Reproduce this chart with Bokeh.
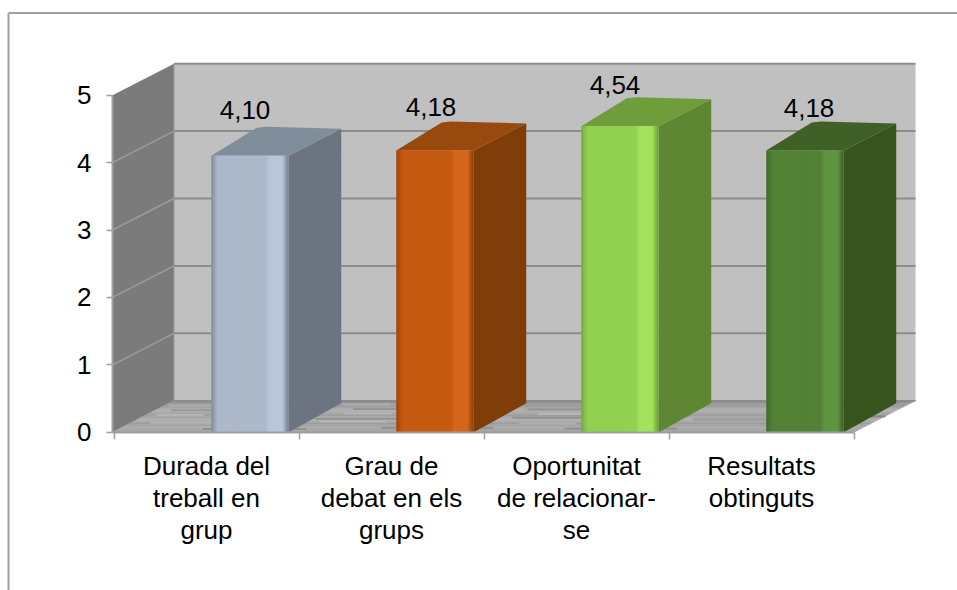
from bokeh.plotting import figure
from bokeh.models import LinearAxis, FixedTicker, Range1d
from bokeh.core.properties import value
from bokeh.embed import file_html
from bokeh.resources import INLINE

categories = ["Durada del\ntreball en\ngrup", "Grau de\ndebat en els\ngrups",
              "Oportunitat\nde relacionar-\nse", "Resultats\nobtinguts"]
values = [4.10, 4.18, 4.54, 4.18]
value_labels = ["4,10", "4,18", "4,54", "4,18"]
y_ticks = [0, 1, 2, 3, 4, 5]

front_colors = ["#adb9ca", "#c55a11", "#92d050", "#538135"]
light_colors = ["#bac6da", "#d6661a", "#a3e25e", "#5f9440"]
dark_colors = ["#7f8b9b", "#9a4509", "#74a83c", "#406a28"]
top_colors = ["#808d9b", "#984a0e", "#709d3c", "#3f6127"]
side_colors = ["#6b7480", "#7f3d0a", "#5f8633", "#37541f"]
label_dx = [-5, -4, -5, 4]
label_lift = [46, 43, 41, 42]
floor_greys = ["#a0a0a0", "#a4a4a4", "#aaaaaa", "#a4a4a4", "#9c9c9c", "#a6a6a6", "#aeaeae", "#a8a8a8",
               "#9e9e9e", "#a2a2a2", "#acacac", "#b0b0b0", "#a4a4a4", "#989898", "#9e9e9e", "#8b8b8b"]
# floor streaks: share of floor depth, start and end along the floor, grey
floor_streaks = [(0.10, 0.45, 1.00, "#858585"), (0.14, 1.40, 2.00, "#838383"), (0.12, 2.40, 3.00, "#888888"),
                 (0.30, 0.10, 0.50, "#bababa"), (0.34, 1.00, 1.35, "#bebebe"), (0.28, 2.10, 2.40, "#b8b8b8"),
                 (0.42, 0.95, 1.45, "#8a8a8a"), (0.46, 2.00, 2.50, "#868686"), (0.40, 3.00, 3.45, "#8e8e8e"),
                 (0.55, 0.05, 0.30, "#bcbcbc"), (0.60, 1.05, 1.30, "#bababa"), (0.58, 2.10, 2.40, "#bebebe"),
                 (0.70, 0.08, 0.35, "#8e8e8e"), (0.74, 1.05, 1.30, "#8a8a8a"), (0.72, 2.00, 2.30, "#888888"),
                 (0.84, 0.02, 0.25, "#b4b4b4"), (0.88, 0.95, 1.20, "#b6b6b6"), (0.50, 3.85, 4.00, "#7c7c7c")]

FONT = "Liberation Sans"
FS = "26px"
W, H = 957, 590
# pixel scale of the chart (the figure starts at the page corner)
X0, PX_CAT = 113.5, 185.0
Y0, PX_VAL = 431.7, 67.4
WALL_DX, WALL_DY = 61.5, 31.5
BAR_DX, BAR_DY = 52.5, 29.0
BAR_SHIFT, BAR_W = 43.5, 77.5

def dx(px):
    return px / PX_CAT

def dy(px):
    return px / PX_VAL

p = figure(width=W, height=H, output_backend="svg", toolbar_location=None,
           x_range=Range1d(-X0 / PX_CAT, (W - X0) / PX_CAT),
           y_range=Range1d((Y0 - H) / PX_VAL, Y0 / PX_VAL),
           min_border=0, min_border_left=0, min_border_right=0, min_border_top=0, min_border_bottom=0,
           outline_line_color=None, background_fill_color="white", border_fill_color="white",
           x_axis_location=None, y_axis_location=None)
p.grid.visible = False

x_left = dx(-1.5)
x_back = x_left + dx(WALL_DX)
n_cat = len(categories)
x_right_front = float(n_cat)
x_right_back = x_right_front + dx(WALL_DX)
vmax = y_ticks[-1]
back = dy(WALL_DY)

# outer chart frame
frame_top = (Y0 - 12.5) / PX_VAL
frame_left = dx(8 - X0)
p.line([frame_left, frame_left], [(Y0 - H) / PX_VAL, frame_top], line_color="#a0a0a0", line_width=2)
p.line([frame_left, (W - X0) / PX_CAT], [frame_top, frame_top], line_color="#a0a0a0", line_width=2)

# back wall and side wall
p.patch([x_back, x_right_back, x_right_back, x_back], [back, back, vmax + back, vmax + back],
        fill_color="#c0c0c0", line_color=None)
p.patch([x_left, x_back, x_back, x_left], [0, back, vmax + back, vmax],
        fill_color="#7b7b7b", line_color=None)

# gridlines on back and side wall (the top one closes the wall)
for t in y_ticks[1:]:
    p.line([x_back, x_right_back], [t + back, t + back], line_color="#8c8c8c", line_width=2)
    if t < vmax:
        p.line([x_left, x_back], [t, t + back], line_color="#9c9c9c", line_width=1.5)
p.line([x_back, x_back], [back, vmax + back], line_color="#9a9a9a", line_width=1)

# floor, mottled in rows
rows = len(floor_greys)
for i, g in enumerate(floor_greys):
    f0, f1 = i / rows, (i + 1) / rows
    xa0, xa1 = x_left + dx(WALL_DX) * f0, x_left + dx(WALL_DX) * f1
    xb0, xb1 = x_right_front + dx(WALL_DX) * f0, x_right_front + dx(WALL_DX) * f1
    p.patch([xa0, xb0, xb1, xa1], [back * f0, back * f0, back * f1, back * f1], fill_color=g, line_color=g,
            line_width=0.5)
for fr, a, b, g in floor_streaks:
    shear = dx(WALL_DX) * fr
    p.line([a + shear, b + shear], [back * fr, back * fr], line_color=g, line_width=2, line_alpha=0.7,
           line_cap="round")
p.line([x_back, x_right_back], [back, back], line_color="#8c8c8c", line_width=1.5)

# bars: horizontal shading stops of the front face
stops = [(0.00, "d"), (0.08, "f"), (0.70, "f"), (0.75, "l"), (0.92, "l"), (0.98, "d"), (1.00, "d")]

def rgb(h):
    return tuple(int(h[i:i + 2], 16) for i in (1, 3, 5))

def mix(a, b, t):
    ca, cb = rgb(a), rgb(b)
    return "#%02x%02x%02x" % tuple(round(ca[k] + (cb[k] - ca[k]) * t) for k in range(3))

STRIPS = 39
for i, v in enumerate(values):
    left = i + 0.5 + dx(BAR_SHIFT - BAR_W / 2)
    w = dx(BAR_W)
    ddx, ddy = dx(BAR_DX), dy(BAR_DY)
    cmap = {"d": dark_colors[i], "f": front_colors[i], "l": light_colors[i]}
    # side face
    p.patch([left + w, left + w + ddx, left + w + ddx, left + w],
            [0, ddy, v + ddy - dy(2), v], fill_color=side_colors[i], line_color=None)
    # top face with softened corners
    c = dx(7)
    p.patch([left, left + ddx - c, left + ddx + c * 0.3, left + w + ddx, left + w, left + w - c, left],
            [v, v + ddy - dy(1), v + ddy, v + ddy - dy(2), v, v - dy(0), v],
            fill_color=top_colors[i], line_color=None)
    # front face, drawn in overlapping strips
    for s in range(STRIPS):
        f = (s + 0.5) / STRIPS
        for (a, ca), (b, cb) in zip(stops, stops[1:]):
            if a <= f <= b:
                col = mix(cmap[ca], cmap[cb], (f - a) / (b - a))
                break
        right = min(left + w * (s + 1) / STRIPS + dx(1.5), left + w)
        p.quad(left=left + w * s / STRIPS, right=right,
               bottom=0, top=v, fill_color=col, line_color=None)
    # value label
    p.text(x=[i + 0.5 + dx(BAR_SHIFT + label_dx[i])], y=[v + dy(label_lift[i])], text=[value_labels[i]],
           text_font=value(FONT), text_font_size=FS, text_color="#000000",
           text_align="center", text_baseline="alphabetic")

# axes
ya = LinearAxis(fixed_location=x_left, ticker=FixedTicker(ticks=y_ticks), bounds=(0, vmax))
ya.axis_line_color = "#a0a0a0"
ya.axis_line_width = 2
ya.major_tick_line_color = "#a0a0a0"
ya.major_tick_line_width = 1.5
ya.major_tick_in = 0
ya.major_tick_out = 6
ya.minor_tick_line_color = None
ya.major_label_text_font = FONT
ya.major_label_text_font_size = FS
ya.major_label_text_color = "#000000"
ya.major_label_standoff = 15
p.add_layout(ya, "left")

xa = LinearAxis(fixed_location=0, ticker=FixedTicker(ticks=list(range(n_cat + 1))), bounds=(x_left, n_cat))
xa.axis_line_color = "#a0a0a0"
xa.axis_line_width = 2
xa.major_tick_line_color = "#a0a0a0"
xa.major_tick_line_width = 1.5
xa.major_tick_in = 0
xa.major_tick_out = 7
xa.minor_tick_line_color = None
xa.major_label_text_font_size = "0px"
xa.major_label_overrides = {k: "" for k in range(n_cat + 1)}
p.add_layout(xa, "below")

# category labels
p.text(x=[i + 0.5 for i in range(n_cat)], y=[dy(-19)] * n_cat, text=categories,
       text_font=value(FONT), text_font_size=FS, text_color="#000000",
       text_align="center", text_baseline="top", text_line_height=1.07)

open("out.html", "w").write(file_html(p, INLINE))
